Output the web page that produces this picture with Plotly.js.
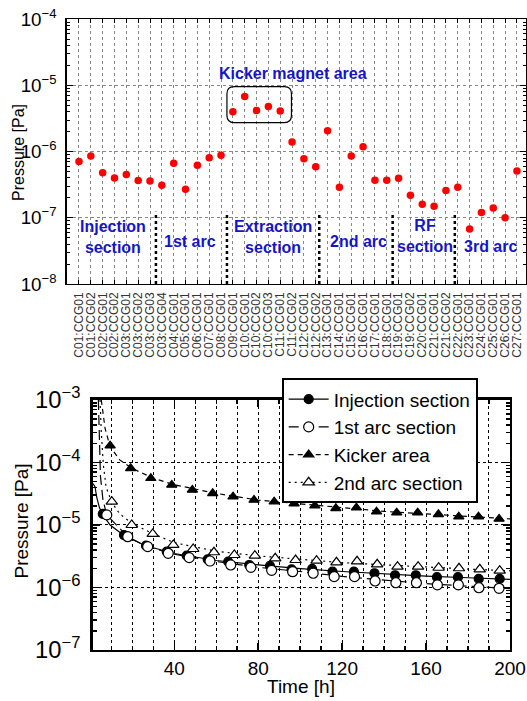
<!DOCTYPE html>
<html>
<head>
<meta charset="utf-8">
<script src="https://cdn.plot.ly/plotly-3.0.1.min.js"></script>
<style>html,body{margin:0;padding:0;background:#fff;}#chart{width:527px;height:701px;}</style>
</head>
<body>
<div id="chart"></div>
<script>
// ---------- Top chart: pressure at each gauge ----------
const gauges = ["C01:CCG01","C01:CCG02","C02:CCG01","C02:CCG02","C03:CCG01","C03:CCG02","C03:CCG03","C03:CCG04",
  "C04:CCG01","C05:CCG01","C06:CCG01","C07:CCG01","C08:CCG01","C09:CCG01","C10:CCG01","C10:CCG02","C10:CCG03",
  "C11:CCG01","C11:CCG02","C12:CCG01","C12:CCG02","C13:CCG01","C14:CCG01","C15:CCG01","C16:CCG01","C17:CCG01",
  "C18:CCG01","C19:CCG01","C19:CCG02","C20:CCG01","C21:CCG01","C21:CCG02","C22:CCG01","C23:CCG01","C24:CCG01",
  "C25:CCG01","C26:CCG01","C27:CCG01"];
const gaugePressure = [7.1e-7,8.6e-7,4.8e-7,4.0e-7,4.5e-7,3.65e-7,3.6e-7,3.1e-7,
  6.7e-7,2.7e-7,6.2e-7,8.1e-7,8.8e-7,4.0e-6,6.8e-6,4.2e-6,4.8e-6,
  4.1e-6,1.4e-6,7.8e-7,5.9e-7,2.07e-6,2.9e-7,8.6e-7,1.19e-6,3.7e-7,
  3.7e-7,3.96e-7,2.2e-7,1.6e-7,1.5e-7,2.58e-7,2.9e-7,6.8e-8,1.2e-7,
  1.41e-7,1.0e-7,5.1e-7];
const sectionNames = ["Injection<br>section","1st arc","Extraction<br>section","2nd arc","RF<br>section","3rd arc"];
const sectionBounds = [6.5, 12.5, 20.3, 26.5, 31.75];

// ---------- Bottom chart: pressure vs time ----------
const injT  = [5.9,16,26.5,36.4,45.9,55.9,65.7,75.7,85.6,95.9,105.7,115.4,125.6,135.4,145.2,155.1,165.2,175.2,185.1,195.1];
const injP  = [1.5e-5,6.9e-6,4.67e-6,3.74e-6,3.23e-6,2.82e-6,2.59e-6,2.29e-6,2.21e-6,1.95e-6,1.98e-6,1.79e-6,1.79e-6,1.69e-6,1.57e-6,1.57e-6,1.46e-6,1.46e-6,1.37e-6,1.37e-6];
const arc1T = [7.8,17.8,27.3,37.1,47.1,57,66.9,76.5,86.4,96.4,106.2,116.2,125.9,135.7,145.6,155.4,165.4,175.4,185.2,194.8];
const arc1P = [1.45e-5,6.5e-6,4.5e-6,3.52e-6,3.0e-6,2.65e-6,2.29e-6,2.1e-6,1.88e-6,1.79e-6,1.69e-6,1.49e-6,1.49e-6,1.27e-6,1.19e-6,1.19e-6,1.1e-6,1.1e-6,9.9e-7,9.7e-7];
const kickT = [9.4,19.2,28.8,38.8,48.6,58.3,68,78,87.6,97.1,107,117,126.8,136.4,146,156,165.9,175.6,185,194.8];
const kickP = [1.86e-4,8.07e-5,5.59e-5,4.37e-5,3.63e-5,3.21e-5,2.84e-5,2.51e-5,2.36e-5,2.19e-5,2.04e-5,1.85e-5,1.89e-5,1.63e-5,1.57e-5,1.57e-5,1.48e-5,1.36e-5,1.36e-5,1.25e-5];
const arc2T = [10.2,19.7,29.7,39.5,49,58.9,68.6,78.4,88.1,97.8,107.8,117.3,127.1,136.7,146.4,156.2,166,175.7,185.6,195.1];
const arc2P = [2.36e-5,1.0e-5,7.2e-6,4.79e-6,4.13e-6,3.66e-6,3.31e-6,3.23e-6,2.93e-6,2.75e-6,2.69e-6,2.53e-6,2.62e-6,2.35e-6,2.15e-6,2.15e-6,2.07e-6,2.03e-6,1.95e-6,1.86e-6];
// fitted curves
const injFitT  = [1.2,2.2,3,4.3,6,9.4,16,26,40,60,80,100,120,140,160,180,200];
const injFitP  = [4.6e-5,4.1e-5,2.8e-5,1.9e-5,1.45e-5,1.0e-5,6.8e-6,4.7e-6,3.5e-6,2.7e-6,2.3e-6,2.0e-6,1.8e-6,1.65e-6,1.52e-6,1.43e-6,1.35e-6];
const arc1FitT = [3.8,4.2,4.8,6,7.8,17.8,27,40,60,80,100,120,140,160,180,200];
const arc1FitP = [1e-3,2e-4,6e-5,2.5e-5,1.45e-5,6.5e-6,4.5e-6,3.4e-6,2.6e-6,2.1e-6,1.8e-6,1.5e-6,1.3e-6,1.15e-6,1.05e-6,9.6e-7];
const kickFitT = [5.2,5.9,7,9.4,14,20,30,40,60,80,100,120,140,160,180,200];
const kickFitP = [1e-3,7e-4,3.5e-4,1.8e-4,1.1e-4,8e-5,5.6e-5,4.4e-5,3.2e-5,2.5e-5,2.15e-5,1.9e-5,1.65e-5,1.5e-5,1.37e-5,1.25e-5];
const arc2FitT = [4.6,5.2,6.2,7.5,10.2,14,20,30,40,60,80,100,120,140,160,180,200];
const arc2FitP = [1e-3,3e-4,9e-5,4e-5,2.3e-5,1.5e-5,1.05e-5,7.2e-6,5.2e-6,3.8e-6,3.2e-6,2.8e-6,2.5e-6,2.3e-6,2.1e-6,1.97e-6,1.85e-6];
const seriesNames = ["Injection section","1st arc section","Kicker area","2nd arc section"];

const BLUE = '#1515c8';
const FONT = 'Arial, "Liberation Sans", sans-serif';

const styles = [
  {dash:'solid', symbol:'circle', fill:'black', size:9},
  {dash:'10px,5px', symbol:'circle', fill:'white', size:10},
  {dash:'5px,4px', symbol:'triangle-up', fill:'black', size:9},
  {dash:'2px,4px', symbol:'triangle-up', fill:'white', size:10}
];
const fits = [[injFitT,injFitP],[arc1FitT,arc1FitP],[kickFitT,kickFitP],[arc2FitT,arc2FitP]];
const pts = [[injT,injP],[arc1T,arc1P],[kickT,kickP],[arc2T,arc2P]];

const traces = [{
  x: gauges, y: gaugePressure, type:'scatter', mode:'markers', xaxis:'x', yaxis:'y',
  marker:{color:'#ff0000', size:7.5}, showlegend:false, hoverinfo:'x+y'
}];
for (let i=0;i<4;i++){
  traces.push({x:fits[i][0], y:fits[i][1], type:'scatter', mode:'lines', xaxis:'x2', yaxis:'y2',
    line:{color:'black', width:1.2, dash:styles[i].dash}, showlegend:false, hoverinfo:'skip'});
}
for (let i=0;i<4;i++){
  traces.push({x:pts[i][0], y:pts[i][1], type:'scatter', mode:'markers', xaxis:'x2', yaxis:'y2',
    marker:{symbol:styles[i].symbol, size:styles[i].size, color:styles[i].fill, line:{color:'black', width:1.2}},
    showlegend:false});
}
for (let i=0;i<4;i++){
  traces.push({x:[null], y:[null], type:'scatter', mode:'lines+markers', xaxis:'x2', yaxis:'y2', name:seriesNames[i],
    line:{color:'black', width:1.2, dash:styles[i].dash},
    marker:{symbol:styles[i].symbol, size:styles[i].size, color:styles[i].fill, line:{color:'black', width:1.2}}});
}

// shapes: section dividers and the kicker box
const shapes = sectionBounds.map(b => ({type:'line', xref:'x', yref:'y', x0:b, x1:b, y0:1e-8, y1:1.23e-7,
  line:{color:'black', width:2.5, dash:'dot'}}));
(function(){
  const x0=12.5, x1=17.95, yb=2.74e-6, yt=9.6e-6, rx=0.6, f=1.28;
  const p = `M${x0+rx},${yb} L${x1-rx},${yb} Q${x1},${yb} ${x1},${yb*f} L${x1},${yt/f} Q${x1},${yt} ${x1-rx},${yt} `+
            `L${x0+rx},${yt} Q${x0},${yt} ${x0},${yt/f} L${x0},${yb*f} Q${x0},${yb} ${x0+rx},${yb} Z`;
  shapes.push({type:'path', xref:'x', yref:'y', path:p, line:{color:'black', width:1.2}});
})();

const secX = [2.87, 9.4, 16.4, 23.65, 29.2, 34.8];
const secY = [-7.29, -7.36, -7.29, -7.36, -7.27, -7.43];
const annotations = sectionNames.map((t,i)=>({xref:'x', yref:'y', x:secX[i], y:secY[i], text:t, showarrow:false,
  xanchor:'center', yanchor:'middle',
  font:{family:FONT, size:16, color:BLUE, weight:'bold'}, align:'center'}));
annotations.push({xref:'x', yref:'y', x:18.07, y:-4.826, text:'Kicker magnet area', showarrow:false,
  xanchor:'center', yanchor:'middle', font:{family:FONT, size:16, color:BLUE, weight:'bold'}});
annotations.push({xref:'paper', yref:'paper', x:0.036, y:0.7832, text:'Pressure [Pa]', textangle:-90, showarrow:false,
  xanchor:'center', yanchor:'middle', font:{family:FONT, size:16, color:'black'}});
annotations.push({xref:'paper', yref:'paper', x:0.0417, y:0.2575, text:'Pressure [Pa]', textangle:-90, showarrow:false,
  xanchor:'center', yanchor:'middle', font:{family:FONT, size:19, color:'black'}});
annotations.push({xref:'paper', yref:'paper', x:0.571, y:0.02, text:'Time [h]', showarrow:false,
  xanchor:'center', yanchor:'middle', font:{family:FONT, size:19, color:'black'}});

const layout = {
  width:527, height:701, margin:{l:0,r:0,t:0,b:0},
  paper_bgcolor:'white', plot_bgcolor:'white',
  font:{family:FONT, color:'black'},
  showlegend:true,
  xaxis:{domain:[0.1271,0.998], anchor:'y', type:'category', range:[-1.014,37.76],
    tickmode:'array', tickvals:gauges, ticktext:gauges,
    tickangle:-90, tickfont:{size:12, color:'#333'}, ticks:'inside', ticklen:4, tickcolor:'black',
    showline:true, linecolor:'black', linewidth:1.5, mirror:'ticks',
    showgrid:true, gridcolor:'#888', griddash:'dot', gridwidth:1, zeroline:false, ticklabelstandoff:2},
  yaxis:{domain:[0.5949,0.9725], anchor:'x', type:'log', range:[-8,-4], dtick:1, exponentformat:'power',
    tickfont:{size:15}, ticks:'inside', ticklen:6, tickcolor:'black',
    showline:true, linecolor:'black', linewidth:1.5, mirror:'ticks',
    showgrid:true, gridcolor:'#888', griddash:'dot', gridwidth:1, zeroline:false, ticklabelstandoff:6,
    minor:{ticks:'inside', ticklen:3, tickcolor:'black', showgrid:false}},
  xaxis2:{domain:[0.1759,0.9677], anchor:'y2', range:[1.1,200], tick0:0, dtick:40,
    ticks:'inside', ticklen:7, tickwidth:1.5, tickcolor:'black', tickfont:{size:19},
    showline:true, linecolor:'black', linewidth:2.5, mirror:'ticks',
    showgrid:true, gridcolor:'black', griddash:'dot', gridwidth:1, zeroline:false, ticklabelstandoff:0,
    minor:{dtick:10, tick0:0, ticks:'inside', ticklen:4, tickcolor:'black', showgrid:true, gridcolor:'black', griddash:'dot', gridwidth:1}},
  yaxis2:{domain:[0.0728,0.4294], anchor:'x2', type:'log', range:[-7,-3], dtick:1, exponentformat:'power',
    tickfont:{size:19}, ticks:'inside', ticklen:7, tickwidth:1.5, tickcolor:'black',
    showline:true, linecolor:'black', linewidth:2.5, mirror:'ticks',
    showgrid:true, gridcolor:'black', griddash:'dot', gridwidth:1, zeroline:false, ticklabelstandoff:6,
    minor:{ticks:'inside', ticklen:4, tickcolor:'black', showgrid:false}},
  legend:{x:0.5345, y:0.4603, xanchor:'left', yanchor:'top', bordercolor:'black', borderwidth:2, bgcolor:'white',
    font:{size:19, family:FONT}, itemwidth:40, tracegroupgap:0},
  shapes:shapes, annotations:annotations
};
Plotly.newPlot('chart', traces, layout, {staticPlot:true, displayModeBar:false});
</script>
</body>
</html>
